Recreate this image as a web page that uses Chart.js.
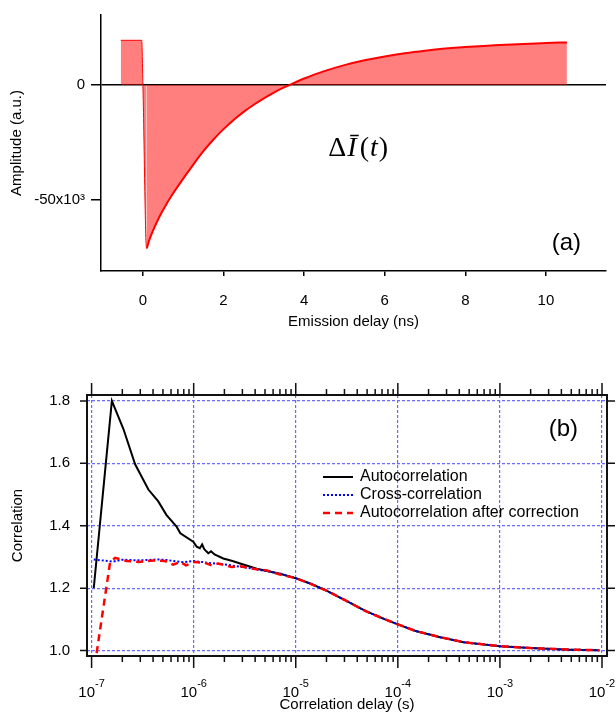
<!DOCTYPE html>
<html>
<head>
<meta charset="utf-8">
<script src="https://cdn.jsdelivr.net/npm/chart.js@4.4.1/dist/chart.umd.min.js"></script>
<style>
  body { margin: 0; background: #fff; }
  canvas { display: block; }
</style>
</head>
<body>
<canvas id="emissionChart" width="616" height="340"></canvas>
<canvas id="correlationChart" width="616" height="372"></canvas>
<script>
// Panel (a): emission delay (ns) vs amplitude
const emissionDelay = [-0.55, -0.03, 0.0, 0.09, 0.15, 0.25, 0.4, 0.6, 0.8, 1.0, 1.25, 1.5, 1.75, 2.0, 2.25, 2.5, 2.75, 3.0, 3.25, 3.5, 3.75, 4.0, 4.25, 4.5, 5.0, 5.5, 6.0, 6.5, 7.0, 7.5, 8.0, 9.0, 10.0, 10.52];
const amplitude = [19400, 19400, 0, -71000, -67800, -63300, -57600, -51300, -45800, -40700, -34600, -28800, -23700, -19200, -15200, -11700, -8600, -5800, -3300, -1100, 900, 2800, 4500, 6000, 8600, 10700, 12400, 13800, 14900, 15800, 16500, 17500, 18200, 18500];
const emissionTicks = [0, 2, 4, 6, 8, 10];
const amplitudeTicks = [0, -50000];

// Panel (b): correlation vs delay (s)
const autoDelay = [1.05e-7, 1.58e-7, 2.05e-7, 2.67e-7, 3.6e-7, 4.5e-7, 5.4e-7, 6.8e-7, 7.4e-7, 9.9e-7, 1.07e-6, 1.15e-6, 1.21e-6, 1.27e-6, 1.33e-6, 1.39e-6, 1.48e-6, 1.6e-6, 1.95e-6, 2.4e-6, 2.85e-6, 4.15e-6, 7.0e-6];
const autoValues = [1.20, 1.80, 1.71, 1.597, 1.516, 1.478, 1.435, 1.397, 1.376, 1.349, 1.333, 1.328, 1.340, 1.325, 1.318, 1.312, 1.318, 1.308, 1.295, 1.287, 1.279, 1.262, 1.246];
const crossDelay = [1.05e-7, 1.6e-7, 2.0e-7, 3.0e-7, 4.5e-7, 5.5e-7, 6.8e-7, 8.0e-7, 1.0e-6, 1.2e-6, 1.5e-6, 2.0e-6, 3.0e-6, 4.5e-6, 7.0e-6];
const crossValues = [1.292, 1.285, 1.291, 1.289, 1.292, 1.290, 1.286, 1.283, 1.287, 1.284, 1.280, 1.276, 1.268, 1.258, 1.247];
const corrDelay = [1.12e-7, 1.52e-7, 1.7e-7, 2.2e-7, 2.9e-7, 4.0e-7, 5.25e-7, 6.3e-7, 7.4e-7, 8.4e-7, 1.03e-6, 1.29e-6, 1.5e-6, 1.74e-6, 2.36e-6, 2.85e-6, 3.85e-6, 5.2e-6, 7.0e-6];
const corrValues = [0.992, 1.284, 1.297, 1.287, 1.284, 1.289, 1.287, 1.275, 1.284, 1.273, 1.284, 1.281, 1.273, 1.279, 1.2675, 1.270, 1.262, 1.257, 1.244];
// all three curves overlap past 10 us
const tailDelay = [1.0e-5, 1.4e-5, 2.0e-5, 3.1e-5, 4.8e-5, 7.5e-5, 1.0e-4, 1.5e-4, 2.6e-4, 4.4e-4, 1.0e-3, 2.0e-3, 4.8e-3, 9.4e-3];
const tailValues = [1.232, 1.214, 1.192, 1.160, 1.127, 1.100, 1.084, 1.0625, 1.043, 1.027, 1.014, 1.008, 1.003, 1.001];
const decadeTicks = [1e-7, 1e-6, 1e-5, 1e-4, 1e-3, 1e-2];
const correlationTicks = [1.0, 1.2, 1.4, 1.6, 1.8];
const seriesNames = ['Autocorrelation', 'Cross-correlation', 'Autocorrelation after correction'];

Chart.defaults.font.family = "'Liberation Sans', Arial, sans-serif";
Chart.defaults.font.size = 15;
Chart.defaults.color = '#000';

const toPoints = (xs, ys) => xs.map((x, i) => ({ x: x, y: ys[i] }));
const FONT = "'Liberation Sans', Arial, sans-serif";

// Panel (a) extras: formula label and (a)
const panelA = {
    id: 'panelA',
    afterDraw(chart) {
        const { ctx, chartArea, scales } = chart;
        ctx.save();
        ctx.fillStyle = '#000';
        ctx.font = '24px ' + FONT;
        ctx.textAlign = 'right';
        ctx.textBaseline = 'middle';
        ctx.fillText('(a)', chartArea.right - 25, chartArea.bottom - 28);

        let x = scales.x.getPixelForValue(4.6);
        const y = scales.y.getPixelForValue(-31000);
        ctx.textAlign = 'left';
        ctx.textBaseline = 'alphabetic';
        const parts = [['Δ', ''], ['Ī', 'italic '], ['(', ''], ['t', 'italic '], [')', '']];
        parts.forEach(p => {
            ctx.font = p[1] + "28px 'Liberation Serif', 'Times New Roman', serif";
            ctx.fillText(p[0], x, y);
            x += ctx.measureText(p[0]).width + (p[0] === 'Ī' ? 3 : 1);
        });
        ctx.restore();
    }
};

const ctxTop = document.getElementById('emissionChart').getContext('2d');
new Chart(ctxTop, {
    type: 'line',
    data: {
        datasets: [{
            data: toPoints(emissionDelay, amplitude),
            borderColor: '#ff0000',
            backgroundColor: 'rgba(255, 0, 0, 0.5)',
            borderWidth: 2,
            fill: 'origin',
            pointRadius: 0,
            cubicInterpolationMode: 'monotone',
            segment: { borderWidth: c => c.p1.parsed.x <= 0.09 ? 1 : 2 }
        }]
    },
    options: {
        responsive: false,
        animation: false,
        layout: { padding: { top: 15, right: 10, left: 0, bottom: 0 } },
        plugins: { legend: { display: false }, tooltip: { enabled: false } },
        scales: {
            x: {
                type: 'linear',
                min: -1.04,
                max: 11.49,
                afterBuildTicks: s => { s.ticks = emissionTicks.map(v => ({ value: v })); },
                afterFit: s => { s.height = 69; },
                ticks: { padding: 16, maxRotation: 0 },
                grid: { drawOnChartArea: false, tickLength: 5, tickColor: '#000', lineWidth: 1.5 },
                border: { color: '#000', width: 1.5 },
                title: { display: true, text: 'Emission delay (ns)', padding: { top: 0, bottom: 9 } }
            },
            y: {
                min: -80870,
                max: 30400,
                afterBuildTicks: s => { s.ticks = amplitudeTicks.map(v => ({ value: v })); },
                afterFit: s => { s.width = 101; },
                ticks: { padding: 6, callback: v => v === 0 ? '0' : (v / 1000) + 'x10³' },
                grid: {
                    color: c => c.tick && c.tick.value === 0 ? '#000' : 'rgba(0,0,0,0)',
                    tickColor: '#000',
                    lineWidth: 1.5,
                    tickLength: 10
                },
                border: { color: '#000', width: 1.5 },
                title: { display: true, text: 'Amplitude (a.u.)', padding: { top: 8, bottom: 0 } }
            }
        }
    },
    plugins: [panelA]
});

// Panel (b) extras: frame, ticks on all sides, log labels, legend, (b)
const panelB = {
    id: 'panelB',
    afterDraw(chart) {
        const { ctx, chartArea, scales } = chart;
        const xs = scales.x, ys = scales.y;
        ctx.save();
        ctx.strokeStyle = '#111';
        ctx.lineWidth = 2;
        ctx.strokeRect(chartArea.left, chartArea.top, chartArea.right - chartArea.left, chartArea.bottom - chartArea.top);

        ctx.lineWidth = 1.5;
        ctx.beginPath();
        decadeTicks.forEach((d, i) => {
            const px = xs.getPixelForValue(d);
            ctx.moveTo(px, chartArea.bottom); ctx.lineTo(px, chartArea.bottom + 12);
            ctx.moveTo(px, chartArea.top); ctx.lineTo(px, chartArea.top - 12);
            if (i < decadeTicks.length - 1) {
                for (let k = 2; k <= 9; k++) {
                    const mx = xs.getPixelForValue(k * d);
                    ctx.moveTo(mx, chartArea.bottom); ctx.lineTo(mx, chartArea.bottom + 6);
                    ctx.moveTo(mx, chartArea.top); ctx.lineTo(mx, chartArea.top - 6);
                }
            }
        });
        correlationTicks.forEach(v => {
            const py = ys.getPixelForValue(v);
            ctx.moveTo(chartArea.left, py); ctx.lineTo(chartArea.left - 7, py);
            ctx.moveTo(chartArea.right, py); ctx.lineTo(chartArea.right + 8, py);
        });
        ctx.stroke();

        // 10^n labels
        ctx.fillStyle = '#000';
        ctx.textBaseline = 'alphabetic';
        ctx.textAlign = 'left';
        decadeTicks.forEach(d => {
            const px = xs.getPixelForValue(d);
            const exp = String(Math.round(Math.log10(d)));
            ctx.font = '15px ' + FONT;
            const wBase = ctx.measureText('10').width;
            ctx.font = '11px ' + FONT;
            const wExp = ctx.measureText(exp).width;
            const start = px - (wBase + wExp) / 2;
            ctx.font = '15px ' + FONT;
            ctx.fillText('10', start, chartArea.bottom + 41);
            ctx.font = '11px ' + FONT;
            ctx.fillText(exp, start + wBase, chartArea.bottom + 31);
        });

        // (b)
        ctx.font = '24px ' + FONT;
        ctx.textAlign = 'right';
        ctx.textBaseline = 'middle';
        ctx.fillText('(b)', chartArea.right - 29, chartArea.top + 34);

        // legend
        const styles = chart.data.datasets;
        ctx.font = '16px ' + FONT;
        ctx.textAlign = 'left';
        styles.forEach((ds, i) => {
            const ly = chartArea.top + 82 + i * 18;
            ctx.save();
            ctx.strokeStyle = ds.borderColor;
            ctx.lineWidth = ds.borderWidth;
            ctx.setLineDash(ds.borderDash || []);
            ctx.beginPath();
            ctx.moveTo(323, ly); ctx.lineTo(353, ly);
            ctx.stroke();
            ctx.restore();
            ctx.fillText(seriesNames[i], 360, ly);
        });
        ctx.restore();
    }
};

const gridBlue = '#6a6aff';
const ctxBottom = document.getElementById('correlationChart').getContext('2d');
new Chart(ctxBottom, {
    type: 'line',
    data: {
        datasets: [
            {
                label: seriesNames[0],
                data: toPoints(autoDelay.concat(tailDelay), autoValues.concat(tailValues)),
                borderColor: '#000000',
                borderWidth: 2,
                pointRadius: 0,
                order: 3
            },
            {
                label: seriesNames[1],
                data: toPoints(crossDelay.concat(tailDelay), crossValues.concat(tailValues)),
                borderColor: '#0000ff',
                borderWidth: 2,
                borderDash: [2, 2],
                pointRadius: 0,
                order: 2
            },
            {
                label: seriesNames[2],
                data: toPoints(corrDelay.concat(tailDelay), corrValues.concat(tailValues)),
                borderColor: '#ff0000',
                borderWidth: 2.5,
                borderDash: [7, 5],
                pointRadius: 0,
                order: 1
            }
        ]
    },
    options: {
        responsive: false,
        animation: false,
        layout: { padding: { top: 55, right: 9, left: 0, bottom: 0 } },
        plugins: { legend: { display: false }, tooltip: { enabled: false } },
        scales: {
            x: {
                type: 'logarithmic',
                min: Math.pow(10, -7.045),
                max: Math.pow(10, -1.951),
                afterBuildTicks: s => { s.ticks = decadeTicks.map(v => ({ value: v })); },
                afterFit: s => { s.height = 56; },
                ticks: { display: false },
                grid: { color: gridBlue, lineWidth: 1.2, drawTicks: false },
                border: { display: false, dash: [3, 2] },
                title: { display: true, text: 'Correlation delay (s)', padding: { top: 0, bottom: -2 } }
            },
            y: {
                min: 0.9826,
                max: 1.819,
                afterBuildTicks: s => { s.ticks = correlationTicks.map(v => ({ value: v })); },
                afterFit: s => { s.width = 87; },
                ticks: { padding: 17, callback: v => v.toFixed(1) },
                grid: { color: gridBlue, lineWidth: 1.2, drawTicks: false },
                border: { display: false, dash: [3, 2] },
                title: { display: true, text: 'Correlation', padding: { top: 9, bottom: 0 } }
            }
        }
    },
    plugins: [panelB]
});
</script>
</body>
</html>
